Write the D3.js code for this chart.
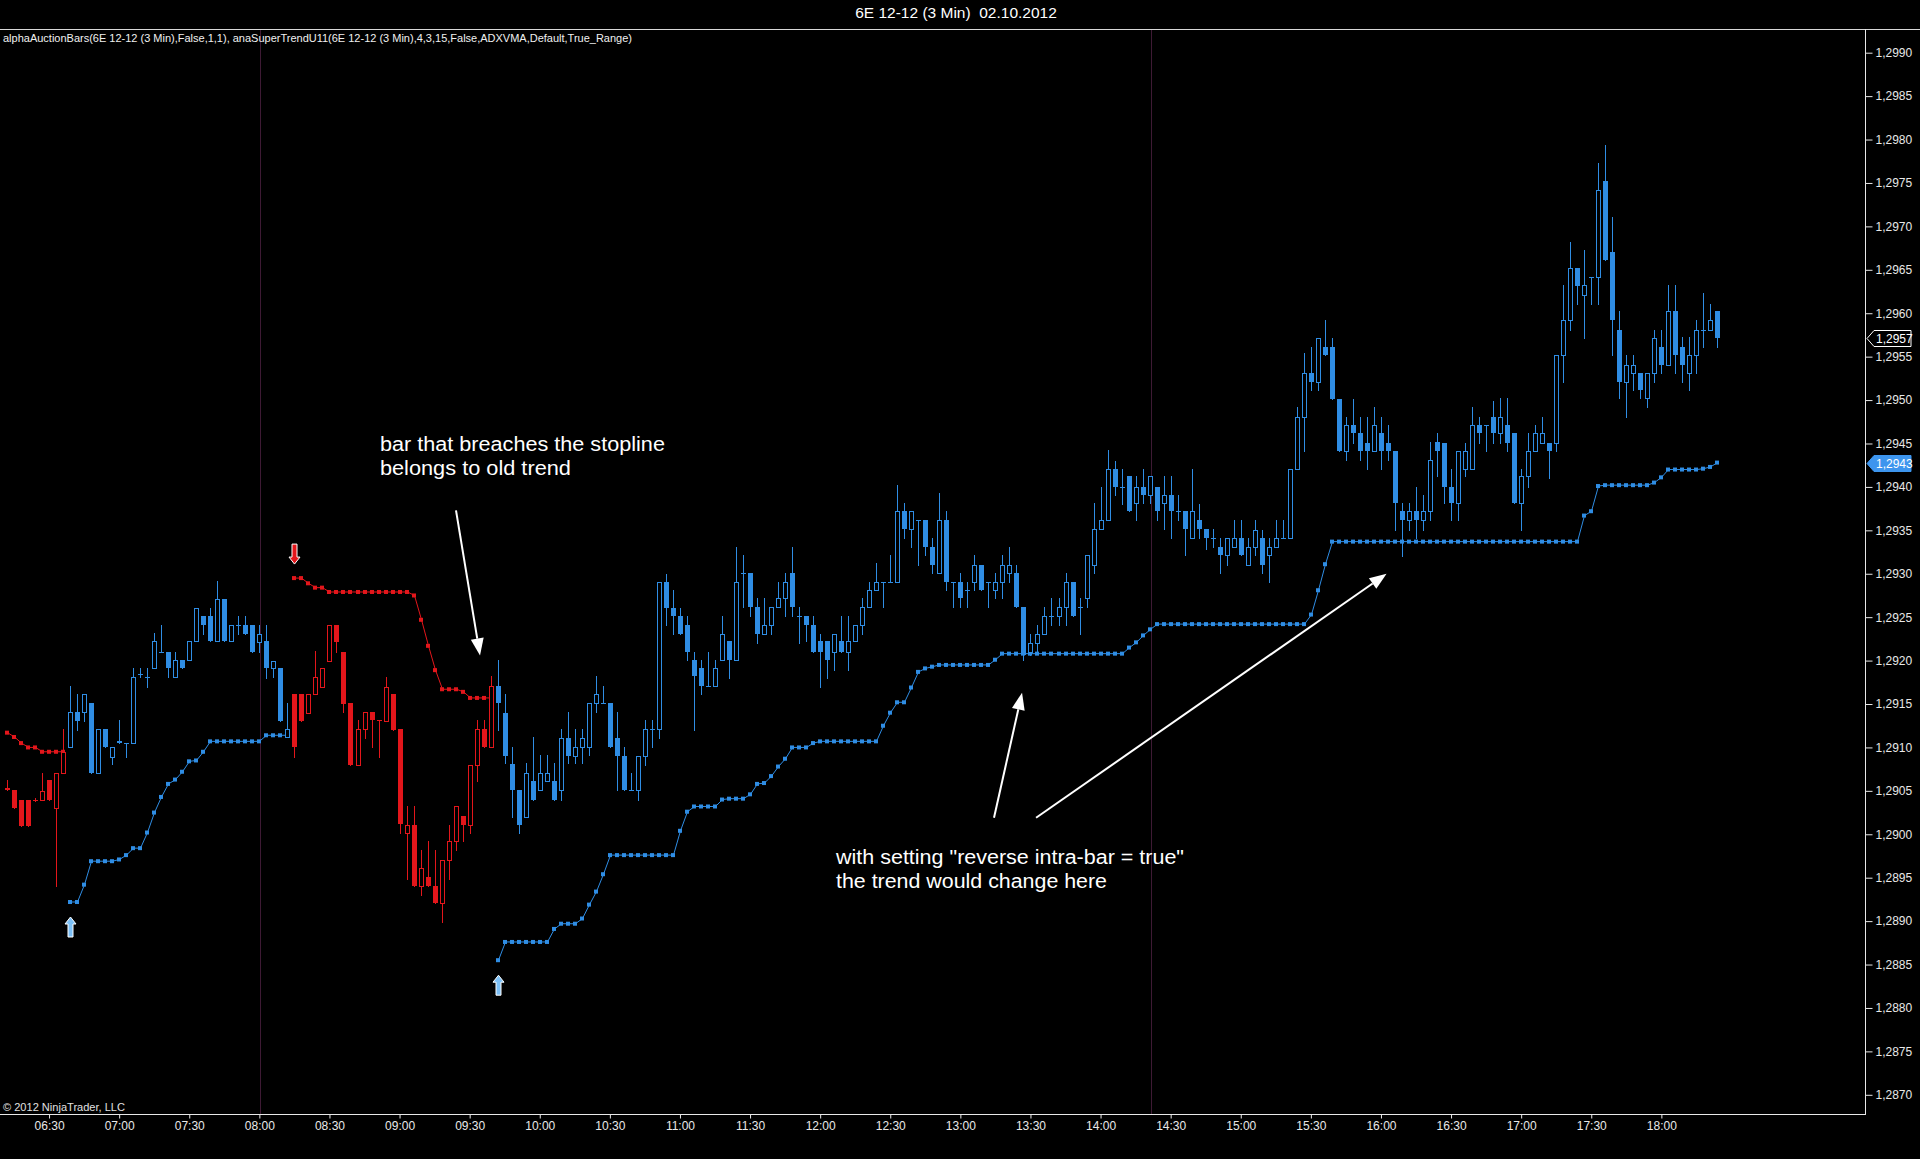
<!DOCTYPE html>
<html>
<head>
<meta charset="utf-8">
<script src="https://cdn.jsdelivr.net/npm/d3@7"></script>
<style>
  html, body { margin: 0; padding: 0; background: #000; overflow: hidden; }
  text { font-family: "Liberation Sans", Arial, sans-serif; }
</style>
</head>
<body>
<div id="graph"></div>
<script>
const width = 1920
const height = 1159
const plotTop = 29
const plotBottom = 1114
const axisX = 1865

const blue = '#2f8de4'
const red = '#e3161b'

// data, one value per 3 min bar starting 06:12
const sessionDay = '2012-10-02'
const firstBar = '06:12'
const barMinutes = 3

const opens = [
1.29053,1.29051,1.29040,1.29040,1.29040,1.29040,1.29062,1.29030,1.29070,
1.29101,1.29141,1.29141,1.29151,1.29070,1.29121,1.29089,1.29107,1.29105,1.29105,1.29185,
1.29181,1.29191,1.29210,1.29210,1.29181,1.29201,1.29201,1.29222,1.29251,1.29251,
1.29222,1.29271,1.29222,1.29241,1.29241,1.29241,1.29221,1.29222,1.29191,1.29191,
1.29112,1.29162,1.29162,1.29140,1.29162,1.29170,1.29200,1.29241,1.29210,1.29151,
1.29080,1.29121,1.29141,1.29132,1.29131,1.29162,1.29121,1.29001,1.29011,1.28940,
1.28951,1.28940,1.28921,1.28970,1.28992,1.29021,1.29011,1.29080,1.29121,1.29101,
1.29171,1.29140,1.29081,1.29051,1.29020,1.29061,1.29051,1.29061,1.29061,1.29051,
1.29111,1.29090,1.29101,1.29101,1.29151,1.29151,1.29151,1.29111,1.29090,1.29051,
1.29051,1.29090,1.29121,1.29121,1.29291,1.29261,1.29251,1.29241,1.29201,1.29191,
1.29171,1.29171,1.29201,1.29222,1.29201,1.29301,1.29301,1.29262,1.29231,1.29241,
1.29262,1.29272,1.29301,1.29251,1.29251,1.29241,1.29222,1.29222,1.29210,1.29222,
1.29210,1.29222,1.29241,1.29262,1.29281,1.29291,1.29291,1.29291,1.29372,1.29351,
1.29362,1.29362,1.29331,1.29301,1.29362,1.29291,1.29291,1.29281,1.29291,1.29310,
1.29291,1.29281,1.29291,1.29301,1.29301,1.29262,1.29210,1.29220,1.29231,1.29251,
1.29251,1.29262,1.29291,1.29262,1.29272,1.29310,1.29351,1.29362,1.29421,1.29400,
1.29412,1.29381,1.29400,1.29391,1.29400,1.29381,1.29391,1.29372,1.29372,1.29341,
1.29362,1.29351,1.29341,1.29331,1.29322,1.29331,1.29341,1.29310,1.29331,1.29341,
1.29322,1.29331,1.29341,1.29341,1.29421,1.29481,1.29531,1.29521,1.29561,1.29561,
1.29501,1.29441,1.29471,1.29462,1.29450,1.29441,1.29462,1.29450,1.29441,1.29372,
1.29362,1.29372,1.29362,1.29372,1.29452,1.29450,1.29400,1.29381,1.29421,1.29421,
1.29471,1.29471,1.29481,1.29462,1.29471,1.29462,1.29381,1.29412,1.29441,1.29450,
1.29450,1.29450,1.29552,1.29592,1.29652,1.29621,1.29642,1.29642,1.29752,1.29671,
1.29581,1.29521,1.29531,1.29531,1.29502,1.29531,1.29561,1.29540,1.29602,1.29561,
1.29531,1.29552,1.29581,1.29581,1.29602
]

const highs = [
1.29063,1.29051,1.29040,1.29040,1.29042,1.29070,1.29062,1.29070,1.29121,
1.29171,1.29162,1.29162,1.29151,1.29121,1.29121,1.29101,1.29132,1.29105,1.29191,1.29191,
1.29191,1.29232,1.29241,1.29210,1.29210,1.29201,1.29222,1.29261,1.29251,1.29261,
1.29292,1.29271,1.29241,1.29251,1.29251,1.29241,1.29241,1.29241,1.29200,1.29191,
1.29151,1.29162,1.29162,1.29162,1.29211,1.29191,1.29241,1.29241,1.29210,1.29151,
1.29132,1.29141,1.29141,1.29132,1.29181,1.29162,1.29121,1.29032,1.29032,1.28982,
1.28992,1.28982,1.28970,1.29011,1.29032,1.29021,1.29080,1.29132,1.29132,1.29182,
1.29201,1.29162,1.29101,1.29051,1.29082,1.29112,1.29091,1.29091,1.29082,1.29121,
1.29141,1.29121,1.29121,1.29151,1.29182,1.29171,1.29151,1.29141,1.29101,1.29071,
1.29090,1.29132,1.29132,1.29291,1.29300,1.29281,1.29261,1.29251,1.29210,1.29201,
1.29210,1.29201,1.29251,1.29222,1.29331,1.29322,1.29301,1.29272,1.29272,1.29262,
1.29291,1.29301,1.29331,1.29262,1.29251,1.29251,1.29231,1.29222,1.29231,1.29251,
1.29251,1.29241,1.29272,1.29291,1.29312,1.29291,1.29322,1.29402,1.29381,1.29372,
1.29362,1.29362,1.29341,1.29393,1.29372,1.29291,1.29301,1.29291,1.29322,1.29310,
1.29291,1.29301,1.29322,1.29331,1.29310,1.29262,1.29231,1.29241,1.29262,1.29272,
1.29272,1.29301,1.29291,1.29272,1.29322,1.29382,1.29400,1.29442,1.29430,1.29421,
1.29412,1.29412,1.29421,1.29412,1.29400,1.29412,1.29412,1.29391,1.29372,1.29421,
1.29380,1.29351,1.29351,1.29341,1.29341,1.29362,1.29362,1.29341,1.29362,1.29350,
1.29341,1.29362,1.29362,1.29421,1.29492,1.29554,1.29561,1.29571,1.29592,1.29571,
1.29501,1.29481,1.29501,1.29481,1.29481,1.29492,1.29481,1.29471,1.29441,1.29381,
1.29381,1.29400,1.29391,1.29452,1.29462,1.29450,1.29421,1.29441,1.29450,1.29492,
1.29481,1.29471,1.29499,1.29502,1.29502,1.29462,1.29421,1.29462,1.29471,1.29481,
1.29450,1.29552,1.29632,1.29682,1.29652,1.29673,1.29642,1.29773,1.29794,1.29711,
1.29602,1.29552,1.29552,1.29531,1.29531,1.29581,1.29581,1.29632,1.29632,1.29573,
1.29573,1.29592,1.29623,1.29611,1.29602
]

const lows = [
1.29051,1.29030,1.29010,1.29010,1.29038,1.29040,1.29040,1.28940,1.29070,
1.29101,1.29120,1.29131,1.29070,1.29070,1.29101,1.29081,1.29105,1.29089,1.29105,1.29181,
1.29170,1.29191,1.29210,1.29181,1.29181,1.29191,1.29201,1.29222,1.29231,1.29222,
1.29222,1.29222,1.29222,1.29231,1.29231,1.29210,1.29210,1.29180,1.29181,1.29131,
1.29112,1.29089,1.29131,1.29140,1.29162,1.29170,1.29200,1.29210,1.29141,1.29080,
1.29080,1.29111,1.29101,1.29089,1.29131,1.29120,1.29001,1.28949,1.28940,1.28930,
1.28940,1.28921,1.28899,1.28949,1.28982,1.28992,1.29001,1.29061,1.29101,1.29101,
1.29120,1.29082,1.29020,1.29001,1.29020,1.29040,1.29051,1.29061,1.29040,1.29040,
1.29082,1.29082,1.29082,1.29091,1.29141,1.29151,1.29101,1.29051,1.29051,1.29051,
1.29040,1.29080,1.29101,1.29111,1.29241,1.29231,1.29231,1.29201,1.29120,1.29161,
1.29171,1.29171,1.29201,1.29180,1.29201,1.29262,1.29251,1.29220,1.29231,1.29231,
1.29262,1.29251,1.29251,1.29220,1.29222,1.29210,1.29170,1.29180,1.29189,1.29210,
1.29189,1.29222,1.29231,1.29262,1.29281,1.29262,1.29291,1.29291,1.29341,1.29331,
1.29310,1.29322,1.29301,1.29301,1.29281,1.29262,1.29262,1.29262,1.29281,1.29281,
1.29262,1.29272,1.29272,1.29291,1.29262,1.29201,1.29206,1.29210,1.29231,1.29241,
1.29241,1.29241,1.29251,1.29231,1.29262,1.29301,1.29351,1.29362,1.29391,1.29380,
1.29372,1.29362,1.29381,1.29381,1.29362,1.29351,1.29341,1.29362,1.29322,1.29341,
1.29341,1.29329,1.29331,1.29301,1.29310,1.29331,1.29322,1.29310,1.29322,1.29301,
1.29291,1.29331,1.29341,1.29341,1.29421,1.29441,1.29512,1.29512,1.29552,1.29501,
1.29441,1.29431,1.29450,1.29431,1.29421,1.29441,1.29421,1.29431,1.29350,1.29320,
1.29350,1.29341,1.29350,1.29362,1.29412,1.29381,1.29362,1.29362,1.29412,1.29421,
1.29450,1.29441,1.29450,1.29450,1.29441,1.29381,1.29350,1.29400,1.29441,1.29450,
1.29410,1.29441,1.29521,1.29581,1.29611,1.29571,1.29611,1.29611,1.29661,1.29552,
1.29502,1.29481,1.29512,1.29502,1.29492,1.29521,1.29531,1.29540,1.29531,1.29521,
1.29512,1.29531,1.29561,1.29581,1.29561
]

const closes = [
1.29051,1.29030,1.29010,1.29010,1.29040,1.29050,1.29040,1.29070,1.29095,
1.29141,1.29131,1.29162,1.29070,1.29121,1.29101,1.29101,1.29105,1.29105,1.29181,1.29185,
1.29181,1.29222,1.29210,1.29191,1.29201,1.29191,1.29222,1.29261,1.29241,1.29222,
1.29271,1.29222,1.29241,1.29241,1.29231,1.29210,1.29231,1.29191,1.29200,1.29131,
1.29121,1.29101,1.29131,1.29162,1.29181,1.29191,1.29241,1.29221,1.29150,1.29080,
1.29121,1.29141,1.29132,1.29131,1.29170,1.29120,1.29012,1.29011,1.28940,1.28961,
1.28940,1.28921,1.28970,1.28992,1.29032,1.29011,1.29080,1.29121,1.29101,1.29171,
1.29151,1.29090,1.29051,1.29011,1.29071,1.29040,1.29071,1.29071,1.29040,1.29111,
1.29090,1.29101,1.29111,1.29151,1.29161,1.29151,1.29101,1.29090,1.29051,1.29051,
1.29090,1.29121,1.29121,1.29291,1.29261,1.29251,1.29231,1.29210,1.29182,1.29171,
1.29171,1.29191,1.29231,1.29201,1.29291,1.29301,1.29262,1.29231,1.29241,1.29262,
1.29272,1.29291,1.29262,1.29251,1.29241,1.29210,1.29210,1.29201,1.29231,1.29210,
1.29222,1.29241,1.29262,1.29281,1.29291,1.29291,1.29291,1.29372,1.29351,1.29372,
1.29362,1.29331,1.29310,1.29362,1.29291,1.29291,1.29272,1.29281,1.29310,1.29281,
1.29291,1.29291,1.29310,1.29310,1.29262,1.29206,1.29220,1.29231,1.29251,1.29251,
1.29262,1.29291,1.29251,1.29262,1.29322,1.29351,1.29362,1.29421,1.29400,1.29400,
1.29372,1.29400,1.29391,1.29412,1.29372,1.29391,1.29372,1.29372,1.29351,1.29372,
1.29351,1.29341,1.29341,1.29322,1.29341,1.29341,1.29322,1.29331,1.29350,1.29310,
1.29331,1.29341,1.29341,1.29421,1.29481,1.29531,1.29521,1.29571,1.29552,1.29501,
1.29441,1.29471,1.29462,1.29441,1.29441,1.29471,1.29441,1.29441,1.29381,1.29362,
1.29372,1.29362,1.29372,1.29431,1.29441,1.29400,1.29381,1.29441,1.29441,1.29471,
1.29462,1.29471,1.29462,1.29481,1.29450,1.29381,1.29412,1.29441,1.29462,1.29462,
1.29441,1.29552,1.29592,1.29652,1.29631,1.29632,1.29642,1.29742,1.29661,1.29592,
1.29521,1.29540,1.29540,1.29512,1.29531,1.29571,1.29540,1.29602,1.29552,1.29540,
1.29552,1.29581,1.29581,1.29592,1.29571
]

// super trend stop line
const stops = [
1.29117,1.29112,1.29105,1.29100,1.29100,1.29095,1.29095,1.29095,1.29095,
1.28922,1.28922,1.28942,1.28969,1.28969,1.28969,1.28969,1.28971,1.28976,1.28984,1.28984,
1.29002,1.29025,1.29043,1.29058,1.29063,1.29072,1.29084,1.29085,1.29095,1.29107,
1.29107,1.29107,1.29107,1.29107,1.29107,1.29107,1.29107,1.29114,1.29114,1.29114,
1.29114,1.29295,1.29295,1.29289,1.29284,1.29284,1.29279,1.29279,1.29279,1.29279,
1.29279,1.29279,1.29279,1.29279,1.29279,1.29279,1.29279,1.29279,1.29275,1.29247,
1.29217,1.29189,1.29167,1.29167,1.29167,1.29164,1.29157,1.29157,1.29157,1.29157,
1.28855,1.28876,1.28876,1.28876,1.28876,1.28876,1.28876,1.28876,1.28891,1.28897,
1.28897,1.28897,1.28903,1.28919,1.28934,1.28954,1.28976,1.28976,1.28976,1.28976,
1.28976,1.28976,1.28976,1.28976,1.28976,1.28976,1.29004,1.29026,1.29032,1.29032,
1.29032,1.29032,1.29040,1.29041,1.29041,1.29041,1.29046,1.29058,1.29059,1.29067,
1.29078,1.29087,1.29100,1.29100,1.29100,1.29105,1.29107,1.29107,1.29107,1.29107,
1.29107,1.29107,1.29107,1.29107,1.29107,1.29125,1.29140,1.29152,1.29152,1.29169,
1.29187,1.29191,1.29193,1.29195,1.29195,1.29195,1.29195,1.29195,1.29195,1.29195,
1.29195,1.29201,1.29208,1.29208,1.29208,1.29208,1.29208,1.29208,1.29208,1.29208,
1.29208,1.29208,1.29208,1.29208,1.29208,1.29208,1.29208,1.29208,1.29208,1.29208,
1.29215,1.29221,1.29229,1.29236,1.29242,1.29242,1.29242,1.29242,1.29242,1.29242,
1.29242,1.29242,1.29242,1.29242,1.29242,1.29242,1.29242,1.29242,1.29242,1.29242,
1.29242,1.29242,1.29242,1.29242,1.29242,1.29242,1.29253,1.29281,1.29311,1.29337,
1.29337,1.29337,1.29337,1.29337,1.29337,1.29337,1.29337,1.29337,1.29337,1.29337,
1.29337,1.29337,1.29337,1.29337,1.29337,1.29337,1.29337,1.29337,1.29337,1.29337,
1.29337,1.29337,1.29337,1.29337,1.29337,1.29337,1.29337,1.29337,1.29337,1.29337,
1.29337,1.29337,1.29337,1.29337,1.29337,1.29367,1.29372,1.29401,1.29402,1.29402,
1.29402,1.29402,1.29402,1.29402,1.29402,1.29405,1.29411,1.29420,1.29420,1.29420,
1.29420,1.29420,1.29421,1.29423,1.29428
]

// trend changes (bar index where a trend begins)
const trendStarts = [0, 9, 41, 70]
const trendDirs = ['down', 'up', 'down', 'up']

// session separators (bar index)
const separatorBars = [36, 163]

// axes
const yTicks = [1.2870,1.2875,1.2880,1.2885,1.2890,1.2895,1.2900,1.2905,1.2910,1.2915,1.2920,1.2925,
  1.2930,1.2935,1.2940,1.2945,1.2950,1.2955,1.2960,1.2965,1.2970,1.2975,1.2980,1.2985,1.2990]
const xTickLabels = ['06:30','07:00','07:30','08:00','08:30','09:00','09:30','10:00','10:30','11:00','11:30','12:00',
  '12:30','13:00','13:30','14:00','14:30','15:00','15:30','16:00','16:30','17:00','17:30','18:00']

// texts
const titleText = '6E 12-12 (3 Min)  02.10.2012'
const legendText = 'alphaAuctionBars(6E 12-12 (3 Min),False,1,1), anaSuperTrendU11(6E 12-12 (3 Min),4,3,15,False,ADXVMA,Default,True_Range)'
const copyrightText = '\u00a9 2012 NinjaTrader, LLC'

// annotations (time, price), line widths
const noteTexts = [
  {lines: ['bar that breaches the stopline', 'belongs to old trend'], widths: [285, 191], time: '08:51:36', price: 1.29441},
  {lines: ['with setting "reverse intra-bar = true"', 'the trend would change here'], widths: [348, 271], time: '12:06:47', price: 1.28966}
]
const noteArrows = [
  {from: ['09:24:09', 1.29373], to: ['09:34:26', 1.29206]},
  {from: ['13:14:24', 1.29019], to: ['13:26:24', 1.29163]},
  {from: ['13:32:24', 1.29019], to: ['16:02:24', 1.29300]}
]


const parse = d3.timeParse('%Y-%m-%d %H:%M:%S')
const at = s => parse(sessionDay + ' ' + (s.length === 5 ? s + ':00' : s))
const t0 = at(firstBar)
const times = opens.map((d, i) => d3.timeMinute.offset(t0, i * barMinutes))

const dirOf = i => trendDirs[d3.bisectRight(trendStarts, i) - 1]
const colorOf = i => dirOf(i) === 'up' ? blue : red

const bars = opens.map((o, i) => ({
  i, t: times[i], o, h: highs[i], l: lows[i], c: closes[i], s: stops[i]
}))

// chart
const svg = d3.select('#graph')
  .append('svg')
  .attr('width', width)
  .attr('height', height)
  .style('display', 'block')
  .style('background', '#000')

// scales
const x = d3.scaleTime()
  .domain([t0, times[times.length - 1]])
  .range([7, 7 + 7.01 * (times.length - 1)])

const y = d3.scaleLinear()
  .domain([1.2870, 1.2990])
  .range([1094.8, 52.7])

const px = t => Math.round(x(t)) + 0.5

// title
svg.append('text')
  .attr('x', 956)
  .attr('y', 18)
  .attr('text-anchor', 'middle')
  .attr('fill', '#fff')
  .style('font-size', '15.5px')
  .style('white-space', 'pre')
  .text(titleText)

svg.append('line')
  .attr('x1', 0).attr('x2', width)
  .attr('y1', plotTop + 0.5).attr('y2', plotTop + 0.5)
  .attr('stroke', '#d8d8d8')

// session separators
svg.append('g')
  .selectAll('line')
  .data(separatorBars)
  .join('line')
  .attr('x1', d => px(times[d]) + 1)
  .attr('x2', d => px(times[d]) + 1)
  .attr('y1', plotTop + 1)
  .attr('y2', plotBottom)
  .attr('stroke', '#3e1a34')

// legend
svg.append('text')
  .attr('x', 3)
  .attr('y', 42)
  .attr('fill', '#f0f0f0')
  .attr('textLength', 629)
  .attr('lengthAdjust', 'spacingAndGlyphs')
  .style('font-size', '11px')
  .text(legendText)

// stop line, one piece per trend
const stopLine = d3.line()
  .x(d => px(d.t))
  .y(d => y(d.s))

trendStarts.forEach((start, k) => {
  const end = k + 1 < trendStarts.length ? trendStarts[k + 1] : bars.length
  const seg = bars.slice(start, end)
  const col = trendDirs[k] === 'up' ? blue : red
  const g = svg.append('g')
  g.append('path')
    .datum(seg)
    .attr('d', stopLine)
    .style('fill', 'none')
    .style('stroke', col)
    .style('stroke-width', '1px')
  g.selectAll('rect')
    .data(seg)
    .join('rect')
    .attr('x', d => px(d.t) - 2.5)
    .attr('y', d => y(d.s) - 2)
    .attr('width', 4)
    .attr('height', 4)
    .attr('fill', col)
})

// candles
const candle = svg.append('g')
  .selectAll('g')
  .data(bars)
  .join('g')

candle.append('line')
  .attr('x1', d => px(d.t))
  .attr('x2', d => px(d.t))
  .attr('y1', d => Math.round(y(d.h)))
  .attr('y2', d => Math.round(y(d.l)) + 1)
  .attr('stroke', d => colorOf(d.i))

candle.filter(d => d.c > d.o)
  .append('rect')
  .attr('x', d => px(d.t) - 2)
  .attr('y', d => Math.round(y(d.c)) + 0.5)
  .attr('width', 4)
  .attr('height', d => Math.max(1, Math.round(y(d.o)) - Math.round(y(d.c))))
  .attr('fill', '#000')
  .attr('stroke', d => colorOf(d.i))

candle.filter(d => d.c < d.o)
  .append('rect')
  .attr('x', d => px(d.t) - 2.5)
  .attr('y', d => Math.round(y(d.o)))
  .attr('width', 5)
  .attr('height', d => Math.max(1, Math.round(y(d.c)) - Math.round(y(d.o))))
  .attr('fill', d => colorOf(d.i))

candle.filter(d => d.c === d.o)
  .append('line')
  .attr('x1', d => px(d.t) - 2.5)
  .attr('x2', d => px(d.t) + 2.5)
  .attr('y1', d => Math.round(y(d.o)) + 0.5)
  .attr('y2', d => Math.round(y(d.o)) + 0.5)
  .attr('stroke', d => colorOf(d.i))

// trend change arrows
const signalArrow = d3.path()
signalArrow.moveTo(0, 0)
signalArrow.lineTo(5.5, 7)
signalArrow.lineTo(2.5, 7)
signalArrow.lineTo(2.5, 20)
signalArrow.lineTo(-2.5, 20)
signalArrow.lineTo(-2.5, 7)
signalArrow.lineTo(-5.5, 7)
signalArrow.closePath()

svg.append('g')
  .selectAll('path')
  .data(trendStarts.slice(1))
  .join('path')
  .attr('d', signalArrow.toString())
  .attr('transform', d => dirOf(d) === 'up'
    ? `translate(${px(times[d])},${y(stops[d]) + 15})`
    : `translate(${px(times[d])},${y(stops[d]) - 14}) scale(1,-1)`)
  .attr('fill', d => dirOf(d) === 'up' ? '#7cc0f7' : red)
  .attr('stroke', '#fff')
  .attr('stroke-width', 1)

// annotations
const notes = svg.append('g')
noteTexts.forEach(n => {
  notes.append('text')
    .attr('x', x(at(n.time)))
    .attr('y', y(n.price))
    .attr('fill', '#fff')
    .style('font-size', '20px')
    .selectAll('tspan')
    .data(n.lines)
    .join('tspan')
    .attr('x', x(at(n.time)))
    .attr('dy', (d, i) => i === 0 ? 0 : 24)
    .attr('textLength', (d, i) => n.widths[i])
    .attr('lengthAdjust', 'spacingAndGlyphs')
    .text(d => d)
})

noteArrows.forEach(a => {
  const x1 = x(at(a.from[0])), y1 = y(a.from[1])
  const x2 = x(at(a.to[0])), y2 = y(a.to[1])
  const len = Math.hypot(x2 - x1, y2 - y1)
  const ux = (x2 - x1) / len, uy = (y2 - y1) / len
  const head = 17, half = 6.5
  const bx = x2 - ux * head, by = y2 - uy * head
  notes.append('line')
    .attr('x1', x1).attr('y1', y1)
    .attr('x2', bx).attr('y2', by)
    .attr('stroke', '#fff')
    .attr('stroke-width', 2)
  notes.append('path')
    .attr('d', `M${x2},${y2}L${bx - uy * half},${by + ux * half}L${bx + uy * half},${by - ux * half}Z`)
    .attr('fill', '#fff')
})

// y axis
const priceFmt = d => d3.format('.4f')(d).replace('.', ',')

const yAxis = svg.append('g')
  .attr('transform', `translate(${axisX + 0.5},0)`)
  .call(d3.axisRight(y).tickValues(yTicks).tickSize(7).tickPadding(3).tickFormat(priceFmt))
yAxis.select('.domain').remove()
yAxis.selectAll('line').attr('stroke', '#e8e8e8')
yAxis.selectAll('text')
  .attr('fill', '#e8e8e8')
  .style('font-size', '12px')
  .style('font-family', '"Liberation Sans", Arial, sans-serif')

svg.append('line')
  .attr('x1', axisX + 0.5).attr('x2', axisX + 0.5)
  .attr('y1', plotTop).attr('y2', plotBottom + 1)
  .attr('stroke', '#e8e8e8')

// x axis
const xAxis = svg.append('g')
  .attr('transform', `translate(0,${plotBottom + 0.5})`)
  .call(d3.axisBottom(x)
    .tickValues(xTickLabels.map(at))
    .tickSize(4)
    .tickPadding(3)
    .tickFormat(d3.timeFormat('%H:%M')))
xAxis.select('.domain').remove()
xAxis.selectAll('line').attr('stroke', '#e8e8e8')
xAxis.selectAll('text')
  .attr('fill', '#e8e8e8')
  .style('font-size', '12px')
  .style('font-family', '"Liberation Sans", Arial, sans-serif')

svg.append('line')
  .attr('x1', 0).attr('x2', axisX)
  .attr('y1', plotBottom + 0.5).attr('y2', plotBottom + 0.5)
  .attr('stroke', '#e8e8e8')

// copyright
svg.append('text')
  .attr('x', 3)
  .attr('y', 1111)
  .attr('fill', '#e0e0e0')
  .attr('textLength', 122)
  .attr('lengthAdjust', 'spacingAndGlyphs')
  .style('font-size', '11px')
  .text(copyrightText)

// price markers on the axis
const markers = [
  {value: closes[closes.length - 1], fill: '#000', stroke: '#fff'},
  {value: stops[stops.length - 1], fill: '#3d95ee', stroke: '#3d95ee'}
]
const marker = svg.append('g')
  .selectAll('g')
  .data(markers)
  .join('g')
  .attr('transform', d => `translate(0,${Math.round(y(d.value)) + 0.5})`)

marker.append('path')
  .attr('d', `M${axisX + 2},0L${axisX + 9},-8L1911,-8L1911,8L${axisX + 9},8Z`)
  .attr('fill', d => d.fill)
  .attr('stroke', d => d.stroke)

marker.append('text')
  .attr('x', axisX + 11)
  .attr('y', 4.5)
  .attr('fill', '#fff')
  .style('font-size', '12px')
  .text(d => priceFmt(+d.value.toFixed(4)))
</script>
</body>
</html>
